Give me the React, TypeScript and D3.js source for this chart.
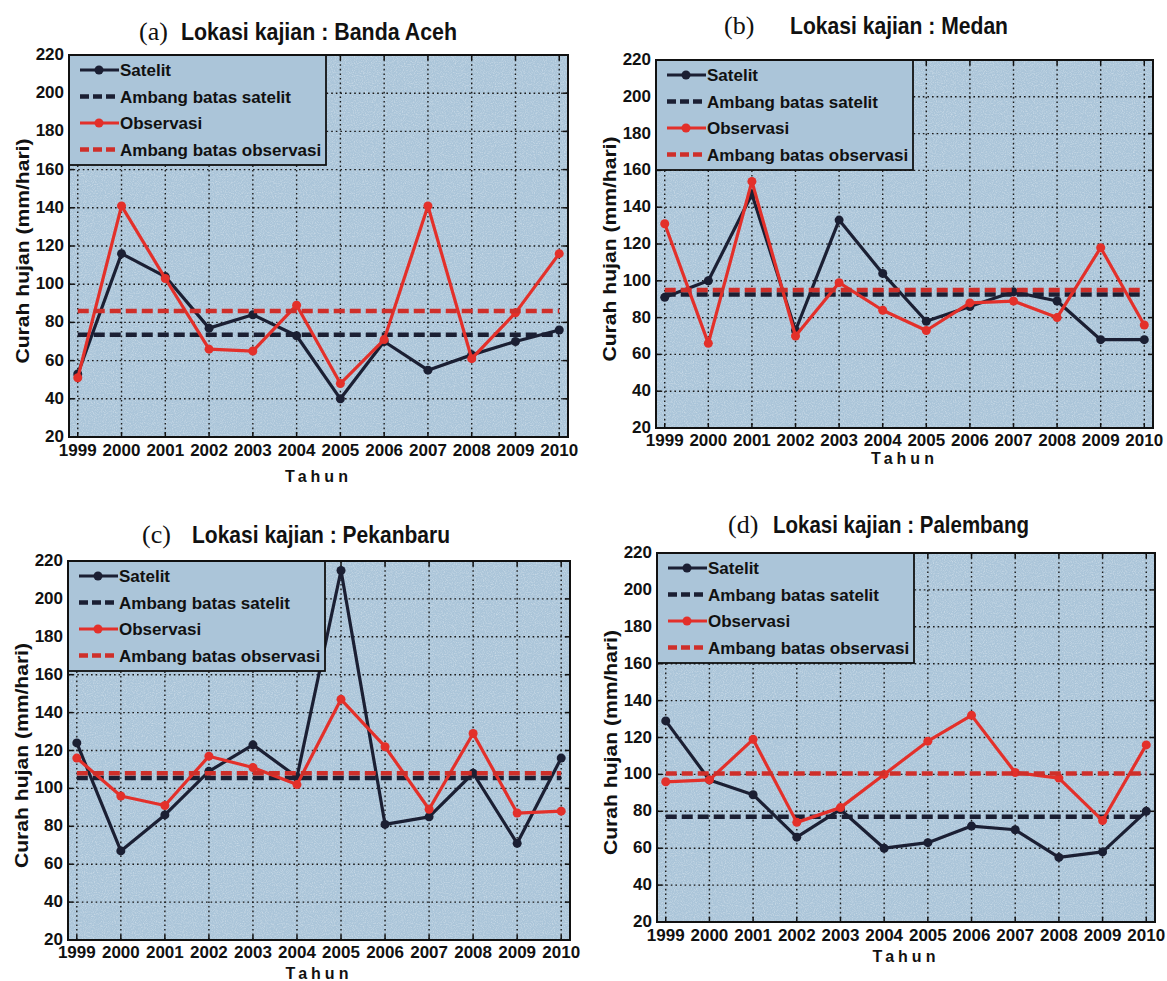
import React from "react";
import * as d3 from "d3";

// rainfall (mm/hari) per year
const years = [1999, 2000, 2001, 2002, 2003, 2004, 2005, 2006, 2007, 2008, 2009, 2010];
const yTicks = [20, 40, 60, 80, 100, 120, 140, 160, 180, 200, 220];
const legendLabels = ["Satelit", "Ambang batas satelit", "Observasi", "Ambang batas observasi"];
const panelLetters = ["(a)", "(b)", "(c)", "(d)"];
const locations = ["Banda Aceh", "Medan", "Pekanbaru", "Palembang"];

const satelitBandaAceh = [53, 116, 104, 77, 84, 73, 40, 70, 55, 63, 70, 76];
const observasiBandaAceh = [51, 141, 103, 66, 65, 89, 48, 71, 141, 61, 85, 116];
const satelitMedan = [91, 100, 147, 73, 133, 104, 78, 86, 94, 89, 68, 68];
const observasiMedan = [131, 66, 154, 70, 99, 84, 73, 88, 89, 80, 118, 76];
const satelitPekanbaru = [124, 67, 86, 109, 123, 106, 215, 81, 85, 108, 71, 116];
const observasiPekanbaru = [116, 96, 91, 117, 111, 102, 147, 122, 89, 129, 87, 88];
const satelitPalembang = [129, 97, 89, 66, 81, 60, 63, 72, 70, 55, 58, 80];
const observasiPalembang = [96, 97, 119, 74, 82, 100, 118, 132, 101, 98, 75, 116];

const thresholdSatelit = [73.5, 92.5, 105.5, 77];
const thresholdObservasi = [86, 95, 108, 100.5];

const satelitSeries = [satelitBandaAceh, satelitMedan, satelitPekanbaru, satelitPalembang];
const observasiSeries = [observasiBandaAceh, observasiMedan, observasiPekanbaru, observasiPalembang];

// where each panel sits on the page
const layout = [
  { left: 69, right: 568, top: 55, bottom: 437, titleY: 40, letterX: 139, titleX: 181, titleW: 276, xLabelY: 456, tahunY: 482 },
  { left: 656, right: 1153, top: 60, bottom: 428, titleY: 34, letterX: 724, titleX: 790, titleW: 218, xLabelY: 446, tahunY: 464 },
  { left: 68, right: 570, top: 561, bottom: 940, titleY: 543, letterX: 142, titleX: 192, titleW: 258, xLabelY: 958, tahunY: 979 },
  { left: 657, right: 1155, top: 553, bottom: 922, titleY: 533, letterX: 728, titleX: 773, titleW: 256, xLabelY: 941, tahunY: 962 },
];

const BLACK = "#1b1f33";
const RED = "#e3302a";
const RED_DASH = "#cf2f2a";
const BG = "#abc5d9";
const FONT = "'Liberation Sans', Arial, sans-serif";

function Panel({ i }: { i: number }) {
  const L = layout[i];
  const x = d3.scaleLinear().domain([1998.8, 2010.2]).range([L.left, L.right]);
  const y = d3.scaleLinear().domain([20, 220]).range([L.bottom, L.top]);

  const line = d3
    .line<number>()
    .x((_, k) => x(years[k]))
    .y((d) => y(d));

  const sat = satelitSeries[i];
  const obs = observasiSeries[i];

  const legX = L.left;
  const legY = L.top;
  const legW = 257;
  const legH = 110;

  return (
    <g>
      {/* title */}
      <text x={L.letterX} y={L.titleY} fontFamily="'Liberation Serif', 'Times New Roman', serif" fontSize={26} fill="#111">
        {panelLetters[i]}
      </text>
      <text
        x={L.titleX}
        y={L.titleY}
        fontFamily={FONT}
        fontWeight="bold"
        fontSize={24}
        fill="#111"
        textLength={L.titleW}
        lengthAdjust="spacingAndGlyphs"
      >
        {"Lokasi kajian : " + locations[i]}
      </text>

      {/* plot area */}
      <rect x={L.left} y={L.top} width={L.right - L.left} height={L.bottom - L.top} fill={BG} />
      <rect
        x={L.left}
        y={L.top}
        width={L.right - L.left}
        height={L.bottom - L.top}
        fill="#ffffff"
        filter="url(#speckle)"
        opacity={0.35}
      />

      {/* grid */}
      {years.map((yr) => (
        <line
          key={"v" + yr}
          x1={x(yr)}
          x2={x(yr)}
          y1={L.top}
          y2={L.bottom}
          stroke="#1a1a1a"
          strokeWidth={1.4}
          strokeDasharray="1.6,3"
        />
      ))}
      {yTicks.slice(1, -1).map((t) => (
        <line
          key={"h" + t}
          x1={L.left}
          x2={L.right}
          y1={y(t)}
          y2={y(t)}
          stroke="#1a1a1a"
          strokeWidth={1.4}
          strokeDasharray="1.6,3"
        />
      ))}
      {/* inner ticks */}
      {years.map((yr) => (
        <g key={"t" + yr}>
          <line x1={x(yr)} x2={x(yr)} y1={L.bottom} y2={L.bottom - 5} stroke="#111" strokeWidth={1.5} />
          <line x1={x(yr)} x2={x(yr)} y1={L.top} y2={L.top + 5} stroke="#111" strokeWidth={1.5} />
        </g>
      ))}
      {yTicks.map((t) => (
        <g key={"yt" + t}>
          <line x1={L.left} x2={L.left + 5} y1={y(t)} y2={y(t)} stroke="#111" strokeWidth={1.5} />
          <line x1={L.right} x2={L.right - 5} y1={y(t)} y2={y(t)} stroke="#111" strokeWidth={1.5} />
        </g>
      ))}

      {/* series */}
      <path d={line(sat) ?? ""} fill="none" stroke={BLACK} strokeWidth={3.2} strokeLinejoin="round" />
      {sat.map((d, k) => (
        <circle key={"s" + k} cx={x(years[k])} cy={y(d)} r={4.5} fill={BLACK} />
      ))}
      <line
        x1={x(years[0])}
        x2={x(years[years.length - 1])}
        y1={y(thresholdSatelit[i])}
        y2={y(thresholdSatelit[i])}
        stroke={BLACK}
        strokeWidth={4.5}
        strokeDasharray="11,5"
      />
      <path d={line(obs) ?? ""} fill="none" stroke={RED} strokeWidth={3.2} strokeLinejoin="round" />
      {obs.map((d, k) => (
        <circle key={"o" + k} cx={x(years[k])} cy={y(d)} r={4.5} fill={RED} />
      ))}
      <line
        x1={x(years[0])}
        x2={x(years[years.length - 1])}
        y1={y(thresholdObservasi[i])}
        y2={y(thresholdObservasi[i])}
        stroke={RED_DASH}
        strokeWidth={4.5}
        strokeDasharray="11,5"
      />

      {/* legend */}
      <rect x={legX} y={legY} width={legW} height={legH} fill={BG} stroke="#111" strokeWidth={1.8} />
      {legendLabels.map((lab, k) => {
        const cy = legY + 15 + k * 26.5;
        const color = k < 2 ? BLACK : k === 3 ? RED_DASH : RED;
        const dashed = k % 2 === 1;
        return (
          <g key={lab}>
            <line
              x1={legX + 11}
              x2={legX + 50}
              y1={cy}
              y2={cy}
              stroke={color}
              strokeWidth={dashed ? 4.5 : 3.2}
              strokeDasharray={dashed ? "9,4" : undefined}
            />
            {!dashed && <circle cx={legX + 30} cy={cy} r={4.5} fill={color} />}
            <text x={legX + 51} y={cy + 6} fontFamily={FONT} fontWeight="bold" fontSize={17} fill="#111">
              {lab}
            </text>
          </g>
        );
      })}

      {/* frame */}
      <rect
        x={L.left}
        y={L.top}
        width={L.right - L.left}
        height={L.bottom - L.top}
        fill="none"
        stroke="#111"
        strokeWidth={2}
      />

      {/* axis labels */}
      {yTicks.map((t) => (
        <text
          key={"yl" + t}
          x={L.left - 5}
          y={y(t) + 5}
          textAnchor="end"
          fontFamily={FONT}
          fontWeight="bold"
          fontSize={17}
          fill="#111"
        >
          {t}
        </text>
      ))}
      {years.map((yr) => (
        <text
          key={"xl" + yr}
          x={x(yr)}
          y={L.xLabelY}
          textAnchor="middle"
          fontFamily={FONT}
          fontWeight="bold"
          fontSize={17}
          fill="#111"
        >
          {yr}
        </text>
      ))}
      <text
        x={(L.left + L.right) / 2}
        y={L.tahunY}
        textAnchor="middle"
        fontFamily={FONT}
        fontWeight="bold"
        fontSize={16}
        letterSpacing={4}
        fill="#111"
      >
        Tahun
      </text>
      <text
        transform={`translate(${L.left - 40},${(L.top + L.bottom) / 2 + 5}) rotate(-90)`}
        textAnchor="middle"
        fontFamily={FONT}
        fontWeight="bold"
        fontSize={18}
        fill="#111"
        textLength={225}
        lengthAdjust="spacingAndGlyphs"
      >
        Curah hujan (mm/hari)
      </text>
    </g>
  );
}

export default function App() {
  return (
    <svg
      width={1167}
      height={981}
      style={{ position: "absolute", left: 0, top: 0, background: "#fff" }}
    >
      <defs>
        <filter id="speckle" x="0" y="0" width="100%" height="100%">
          <feTurbulence type="fractalNoise" baseFrequency="0.9" numOctaves={2} seed={3} />
          <feColorMatrix type="matrix" values="0 0 0 0 1  0 0 0 0 1  0 0 0 0 1  0 0 0 -2.2 1.25" />
          <feComposite in2="SourceGraphic" operator="in" />
        </filter>
      </defs>
      {layout.map((_, i) => (
        <Panel key={i} i={i} />
      ))}
    </svg>
  );
}
